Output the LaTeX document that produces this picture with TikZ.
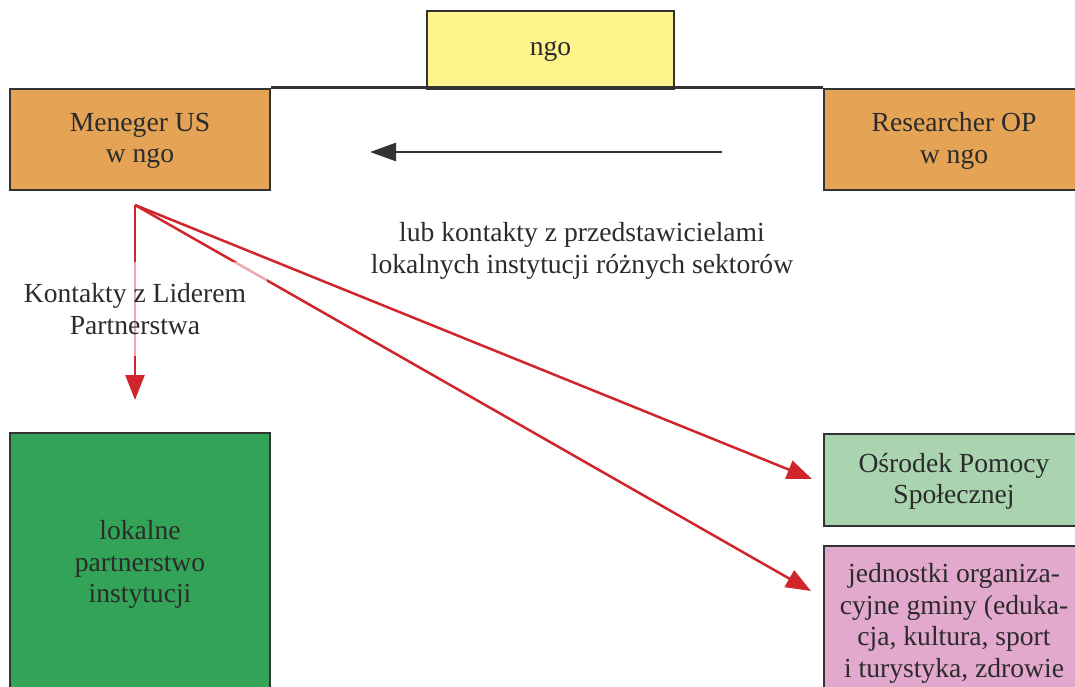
\documentclass[tikz,border=0pt]{standalone}
\usepackage{fontspec}
\setmainfont{Liberation Serif}
\usetikzlibrary{arrows.meta,positioning}

\definecolor{boxline}{HTML}{333333}
\definecolor{txt}{HTML}{2B2B2B}
\definecolor{ngoyellow}{HTML}{FFF48C}
\definecolor{staffor}{HTML}{E5A455}
\definecolor{opsgreen}{HTML}{AAD3B0}
\definecolor{unitpink}{HTML}{E3A8CE}
\definecolor{lpigreen}{HTML}{33A457}
\definecolor{linkred}{HTML}{D0262B}

\begin{document}
\begin{tikzpicture}[x=0.5pt,y=-0.5pt,
  box/.style={draw=boxline,line width=1.4pt,minimum width=130pt,minimum height=50.5pt,
    align=center,text=txt,font=\fontsize{13.8}{15.8}\selectfont,text depth=1.5pt},
  lbl/.style={align=center,text=txt,font=\fontsize{13.8}{15.8}\selectfont},
  contact/.style={draw=linkred,line width=1.25pt,-{Triangle[length=12.5pt,width=9.5pt]}}]

  \useasboundingbox (0,0) rectangle (1075,686);

  % organisation and its staff
  \node[box,fill=ngoyellow,minimum width=123.5pt,minimum height=39pt] (ngo) at (550.5,50) {ngo};
  \node[box,fill=staffor] (manager) at (140,139.5) {Meneger US\\w ngo};
  \node[box,fill=staffor] (researcher) at (954,139.5) {Researcher OP\\w ngo};
  \draw[draw=boxline,line width=1.4pt] (manager.north east) -- (researcher.north west);

  % institutions
  \node[box,fill=lpigreen,minimum height=130pt] (partnership) at (140,563) {lokalne\\partnerstwo\\instytucji};
  \node[box,fill=opsgreen,minimum height=46pt] (ops) at (954,480) {Ośrodek Pomocy\\Społecznej};
  \node[box,fill=unitpink,minimum height=76pt] (units) at (954,622)
    {jednostki organiza-\\cyjne gminy (eduka-\\cja, kultura, sport\\i turystyka, zdrowie};

  \coordinate (src) at (135,205);
  \coordinate (down) at (135,400);
  \coordinate (opsend) at (812,479);
  \coordinate (unitsend) at (811,591);
  \coordinate (from) at (722,152);
  \coordinate (to) at (370,152);

  \draw[draw=boxline,line width=1.25pt,-{Triangle[length=13pt,width=9pt]}] (from) -- (to);

  \path (src) edge[contact] (down)
              edge[contact] (opsend)
              edge[contact] (unitsend);

  \node[lbl,fill=white,fill opacity=0.6,text opacity=1,minimum width=132pt,minimum height=47pt]
    (leader) at (135,309) {Kontakty z Liderem\\Partnerstwa};
  \node[lbl] (sectors) at (582,251) {lub kontakty z przedstawicielami\\lokalnych instytucji różnych sektorów};
\end{tikzpicture}
\end{document}
